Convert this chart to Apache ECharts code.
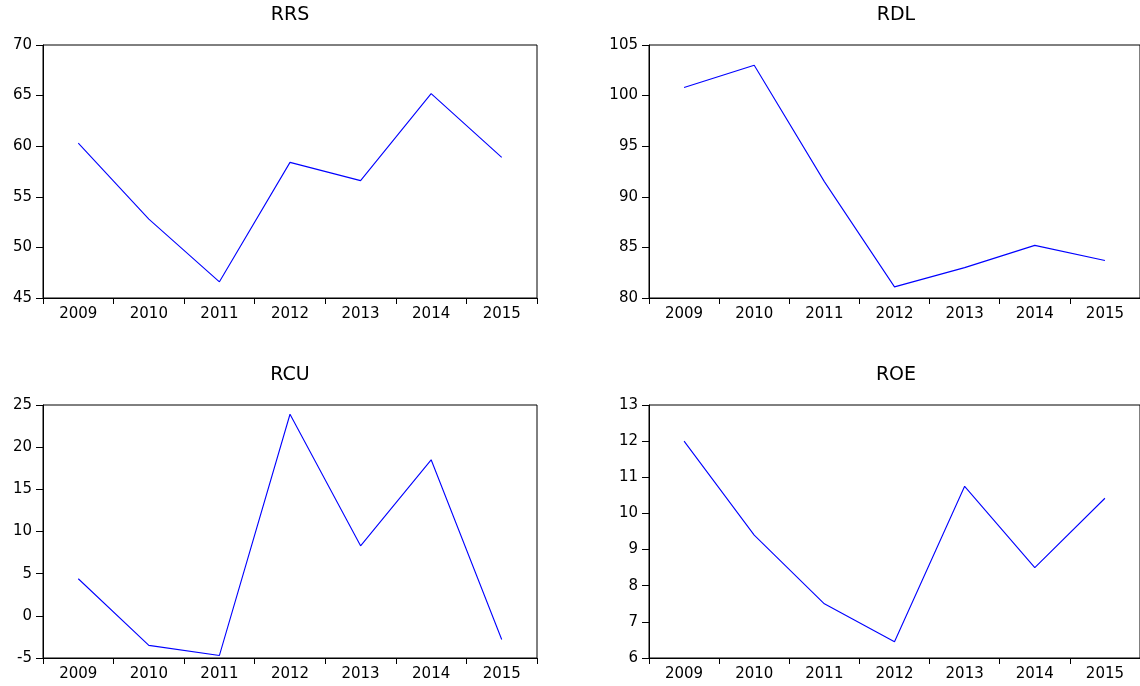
<!DOCTYPE html>
<html>
<head>
<meta charset="utf-8">
<script src="https://cdn.jsdelivr.net/npm/echarts@6/dist/echarts.min.js"></script>
<style>
html,body{margin:0;padding:0;background:#fff;}
#c{width:1140px;height:686px;}
</style>
</head>
<body>
<div id="c"></div>
<script>
const years = ['2009','2010','2011','2012','2013','2014','2015'];
const rrs = [60.3, 52.8, 46.6, 58.4, 56.6, 65.2, 58.9];
const rdl = [100.8, 103.0, 91.5, 81.1, 83.0, 85.2, 83.7];
const rcu = [4.4, -3.5, -4.7, 23.9, 8.3, 18.5, -2.8];
const roe = [12.0, 9.4, 7.5, 6.45, 10.75, 8.5, 10.42];
const titles = ['RRS', 'RDL', 'RCU', 'ROE'];
const yRanges = [[45, 70, 5], [80, 105, 5], [-5, 25, 5], [6, 13, 1]];

const seriesData = [rrs, rdl, rcu, roe];
const grids = [
  {left: 43, top: 45, width: 494, height: 253},
  {left: 649, top: 45, width: 494, height: 253},
  {left: 43, top: 405, width: 494, height: 253},
  {left: 649, top: 405, width: 494, height: 253}
];
const font = 'DejaVu Sans';

const option = {
  animation: false,
  backgroundColor: '#fff',
  title: grids.map((g, i) => ({
    text: titles[i],
    left: g.left + g.width / 2,
    top: g.top - 39,
    textAlign: 'center',
    padding: 0,
    textStyle: {fontFamily: font, fontSize: 19, fontWeight: 'normal', color: '#000'}
  })),
  grid: grids.map(g => Object.assign({show: true, borderColor: '#000', borderWidth: 1, backgroundColor: 'transparent'}, g)),
  xAxis: grids.map((g, i) => ({
    type: 'category',
    gridIndex: i,
    data: years,
    boundaryGap: true,
    axisLine: {show: true, onZero: false, lineStyle: {color: '#000', width: 1}},
    axisTick: {show: true, length: 6, inside: false, lineStyle: {color: '#000'}},
    axisLabel: {color: '#000', fontFamily: font, fontSize: 15, margin: 9},
    splitLine: {show: false}
  })),
  yAxis: grids.map((g, i) => ({
    type: 'value',
    gridIndex: i,
    min: yRanges[i][0],
    max: yRanges[i][1],
    interval: yRanges[i][2],
    axisLine: {show: true, onZero: false, lineStyle: {color: '#000', width: 1}},
    axisTick: {show: true, length: 7, inside: false, lineStyle: {color: '#000'}},
    axisLabel: {color: '#000', fontFamily: font, fontSize: 15, margin: 11},
    splitLine: {show: false}
  })),
  series: seriesData.map((d, i) => ({
    type: 'line',
    xAxisIndex: i,
    yAxisIndex: i,
    data: d,
    showSymbol: false,
    symbol: 'none',
    lineStyle: {color: '#0000ff', width: 1.1},
    itemStyle: {color: '#0000ff'}
  }))
};

const chart = echarts.init(document.getElementById('c'), null, {renderer: 'canvas'});
chart.setOption(option);
</script>
</body>
</html>
